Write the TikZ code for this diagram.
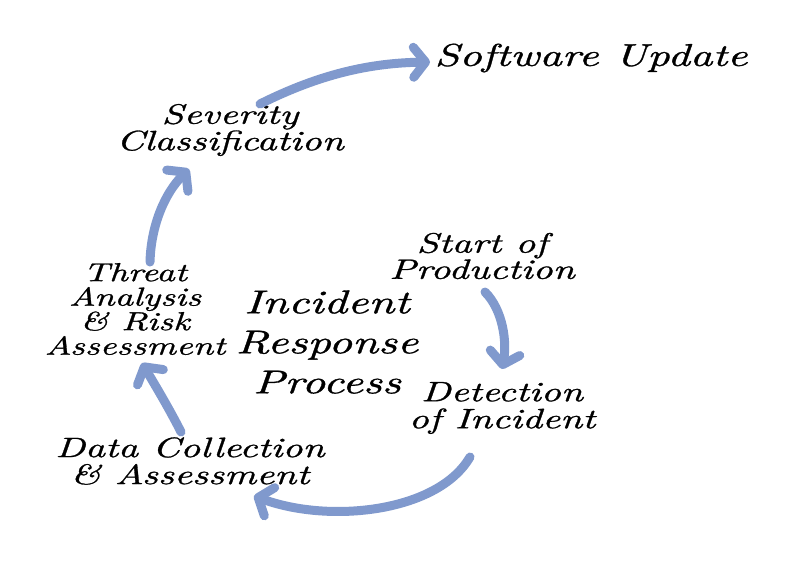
\documentclass[tikz,border=0pt]{standalone}
\usepackage{fontspec}
\newfontfamily\hand{lmroman10-italic.otf}[FakeStretch=1.4,FakeBold=1.0]
\usetikzlibrary{arrows.meta}
\definecolor{arrowblue}{RGB}{128,153,205}
\tikzset{
  lbl/.style={font=\hand\fontsize{28}{24.5}\selectfont, align=center, inner sep=0pt, text=black},
  lblw/.style={font=\hand\fontsize{28}{27}\selectfont, align=center, inner sep=0pt, text=black},
  thrl/.style={font=\hand\fontsize{26}{24.5}\selectfont, align=center, inner sep=0pt, text=black},
  bigl/.style={font=\hand\fontsize{33}{40}\selectfont, align=center, inner sep=0pt, text=black},
  topl/.style={font=\hand\fontsize{31.5}{32}\selectfont, align=center, inner sep=0pt, text=black},
  flow/.style={draw=arrowblue, line width=9pt, line cap=round,
    -{Straight Barb[length=12pt,width=30pt,round]}},
}
\begin{document}
\begin{tikzpicture}[x=1pt,y=-1pt]
\useasboundingbox (0,0) rectangle (800,566);
\fill[white] (0,0) rectangle (800,566);

\node[topl] (sw)  at (591,58)  {Software Update};
\node[lbl]  (sev) at (230,130) {Severity\\Classification};
\node[thrl] (thr) at (135,309) {Threat\\Analysis\\\& Risk\\Assessment};
\node[bigl] (irp) at (327,342) {Incident\\Response\\Process};
\node[lbl]  (sop) at (482,256) {Start of\\Production};
\node[lblw] (det) at (502,408) {Detection\\of Incident};
\node[lblw] (dat) at (190,461) {Data Collection\\\& Assessment};

\coordinate (a1s) at (485,292);
\coordinate (a1e) at (502,369);
\coordinate (a2s) at (470,457);
\coordinate (a2e) at (254,496);
\coordinate (a3s) at (181,432);
\coordinate (a3e) at (142,363);
\coordinate (a4s) at (150,262);
\coordinate (a4e) at (189,169);
\coordinate (a5s) at (260,104);
\coordinate (a5e) at (430,62);

\draw[flow] (a1s) .. controls (503,310) and (507,342) .. (a1e);
\draw[flow] (a2s) .. controls (438,512) and (330,524) .. (a2e);
\draw[flow] (a3s) .. controls (170,410) and (155,385) .. (a3e);
\draw[flow] (a4s) .. controls (151,225) and (165,193) .. (a4e);
\draw[flow] (a5s) .. controls (320,74) and (370,63) .. (a5e);
\end{tikzpicture}
\end{document}
